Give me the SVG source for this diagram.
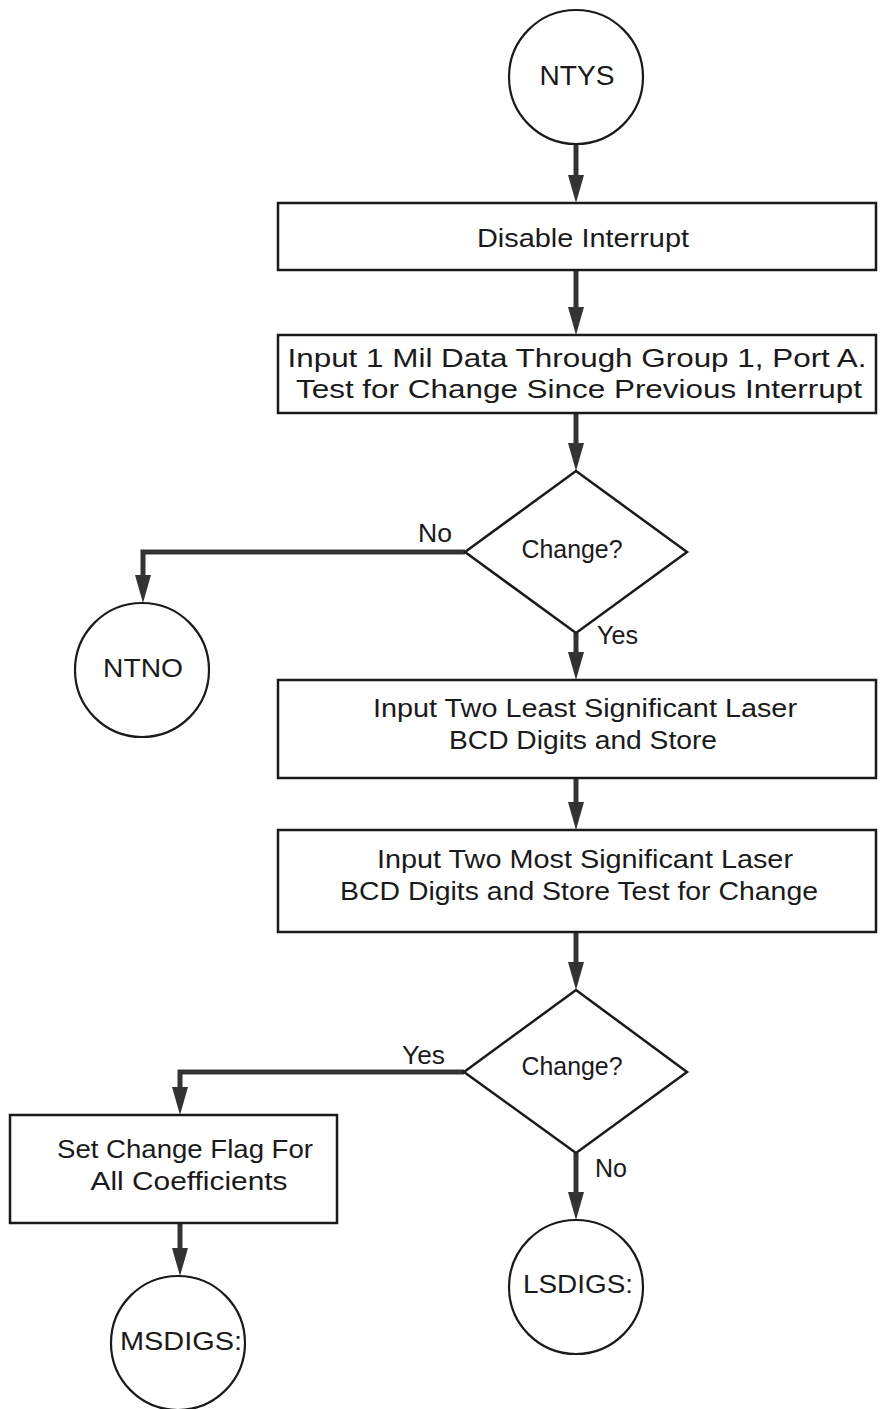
<svg xmlns="http://www.w3.org/2000/svg" width="884" height="1409" viewBox="0 0 884 1409">
<style>
.shape{fill:#fff;stroke:#1a1a1a;stroke-width:2.5}
.circ{fill:#fff;stroke:#1a1a1a;stroke-width:2.2}
.t{font-family:"Liberation Sans",Arial,sans-serif;font-size:26px;fill:#1a1a1a;text-anchor:middle}
.lbl{font-family:"Liberation Sans",Arial,sans-serif;font-size:25px;fill:#1a1a1a}
.c{fill:none;stroke:#333;stroke-width:5}
</style>
<defs>
<marker id="ah" markerUnits="userSpaceOnUse" markerWidth="28" markerHeight="16" refX="1" refY="8" orient="auto" viewBox="0 0 28 16">
<path d="M0,0 L28,8 L0,16 Z" fill="#333"/>
</marker>
</defs>
<rect width="884" height="1409" fill="#fff"/>
<g id="connectors">
<path class="c" d="M576,144 V176" marker-end="url(#ah)"/>
<path class="c" d="M576,270 V308" marker-end="url(#ah)"/>
<path class="c" d="M576,413 V444" marker-end="url(#ah)"/>
<path class="c" d="M465,552 H143 V576" marker-end="url(#ah)"/>
<path class="c" d="M576,633 V653" marker-end="url(#ah)"/>
<path class="c" d="M576,778 V803" marker-end="url(#ah)"/>
<path class="c" d="M576,932 V963" marker-end="url(#ah)"/>
<path class="c" d="M464,1072 H180 V1088" marker-end="url(#ah)"/>
<path class="c" d="M180,1223 V1249" marker-end="url(#ah)"/>
<path class="c" d="M576,1153 V1193" marker-end="url(#ah)"/>
</g>
<g id="ntys">
<circle class="circ" cx="576" cy="77" r="67"/>
<text class="t" x="577" y="85" textLength="75" lengthAdjust="spacingAndGlyphs" style="font-size:28px">NTYS</text>
</g>
<g id="disable">
<rect class="shape" x="278" y="203" width="598" height="67"/>
<text class="t" x="583" y="247" textLength="212" lengthAdjust="spacingAndGlyphs">Disable Interrupt</text>
</g>
<g id="input1">
<rect class="shape" x="278" y="335" width="598" height="78"/>
<text class="t" x="577" y="367" textLength="579" lengthAdjust="spacingAndGlyphs">Input 1 Mil Data Through Group 1, Port A.</text>
<text class="t" x="579" y="398" textLength="566" lengthAdjust="spacingAndGlyphs">Test for Change Since Previous Interrupt</text>
</g>
<g id="change1">
<polygon class="shape" points="576,471 687,552 576,633 465,552"/>
<text class="t" x="572" y="558" textLength="101" lengthAdjust="spacingAndGlyphs">Change?</text>
<text class="lbl" x="418" y="542" textLength="34" lengthAdjust="spacingAndGlyphs">No</text>
<text class="lbl" x="597" y="644" textLength="41" lengthAdjust="spacingAndGlyphs">Yes</text>
</g>
<g id="ntno">
<circle class="circ" cx="142" cy="670" r="67"/>
<text class="t" x="143" y="677" textLength="80" lengthAdjust="spacingAndGlyphs">NTNO</text>
</g>
<g id="input-ls">
<rect class="shape" x="278" y="680" width="598" height="98"/>
<text class="t" x="585" y="717" textLength="424" lengthAdjust="spacingAndGlyphs">Input Two Least Significant Laser</text>
<text class="t" x="583" y="749" textLength="268" lengthAdjust="spacingAndGlyphs">BCD Digits and Store</text>
</g>
<g id="input-ms">
<rect class="shape" x="278" y="830" width="598" height="102"/>
<text class="t" x="585" y="868" textLength="416" lengthAdjust="spacingAndGlyphs">Input Two Most Significant Laser</text>
<text class="t" x="579" y="900" textLength="478" lengthAdjust="spacingAndGlyphs">BCD Digits and Store Test for Change</text>
</g>
<g id="change2">
<polygon class="shape" points="576,990 687,1072 576,1153 464,1072"/>
<text class="t" x="572" y="1075" textLength="101" lengthAdjust="spacingAndGlyphs">Change?</text>
<text class="lbl" x="402" y="1064" textLength="43" lengthAdjust="spacingAndGlyphs">Yes</text>
<text class="lbl" x="595" y="1177" textLength="32" lengthAdjust="spacingAndGlyphs">No</text>
</g>
<g id="setflag">
<rect class="shape" x="10" y="1115" width="327" height="108"/>
<text class="t" x="185" y="1158" textLength="256" lengthAdjust="spacingAndGlyphs">Set Change Flag For</text>
<text class="t" x="189" y="1190" textLength="197" lengthAdjust="spacingAndGlyphs">All Coefficients</text>
</g>
<g id="msdigs">
<circle class="circ" cx="178" cy="1343" r="67"/>
<text class="t" x="181" y="1350" textLength="122" lengthAdjust="spacingAndGlyphs">MSDIGS:</text>
</g>
<g id="lsdigs">
<circle class="circ" cx="576" cy="1287" r="67"/>
<text class="t" x="578" y="1293" textLength="110" lengthAdjust="spacingAndGlyphs">LSDIGS:</text>
</g>
</svg>
